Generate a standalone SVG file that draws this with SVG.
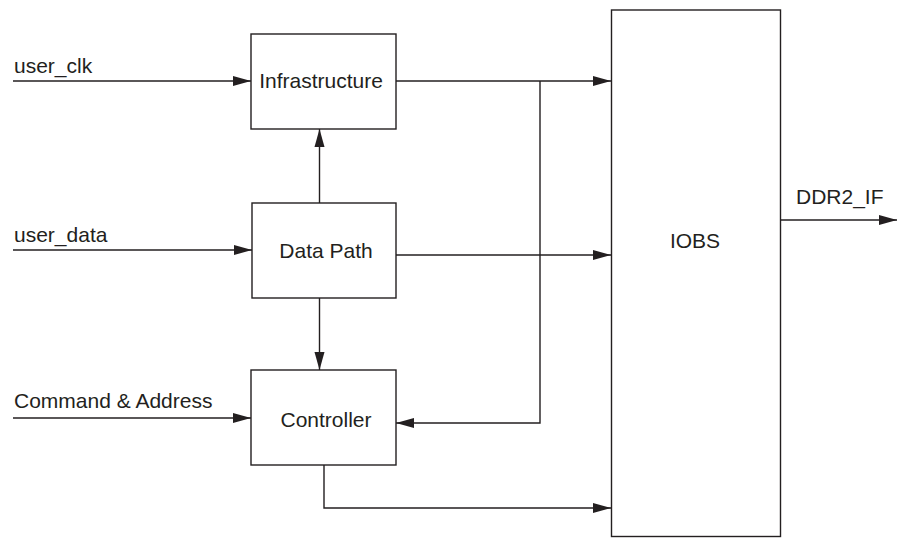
<svg xmlns="http://www.w3.org/2000/svg" width="901" height="538" viewBox="0 0 901 538">
<style>
.box{fill:#fff;stroke:#231f20;stroke-width:1.4}
.ln{fill:none;stroke:#231f20;stroke-width:1.4;marker-end:url(#ah)}
text{font-family:"Liberation Sans",Arial,sans-serif;font-size:21px;fill:#231f20}
.c{text-anchor:middle}
</style>
<defs>
<marker id="ah" markerUnits="userSpaceOnUse" markerWidth="19" markerHeight="11" refX="18" refY="5.5" orient="auto">
<path d="M0,0.5 L18,5.5 L0,10.5 z" fill="#231f20"/>
</marker>
</defs>
<rect width="901" height="538" fill="#fff"/>
<g id="connectors">
<line class="ln" x1="13" y1="81" x2="251" y2="81"/>
<line class="ln" x1="13" y1="250" x2="252" y2="250"/>
<line class="ln" x1="13" y1="418" x2="251" y2="418"/>
<line class="ln" x1="396" y1="81" x2="611" y2="81"/>
<polyline class="ln" points="540,81 540,423 396,423"/>
<line class="ln" x1="396" y1="255" x2="611" y2="255"/>
<line class="ln" x1="319.5" y1="203" x2="319.5" y2="129"/>
<line class="ln" x1="319.5" y1="298" x2="319.5" y2="370"/>
<polyline class="ln" points="324,465 324,508 611,508"/>
<line class="ln" x1="781" y1="220" x2="897" y2="220"/>
</g>
<g id="infrastructure">
<rect class="box" x="251" y="34" width="145" height="95"/>
<text class="c" x="321" y="88">Infrastructure</text>
</g>
<g id="datapath">
<rect class="box" x="252" y="203" width="144" height="95"/>
<text class="c" x="326" y="258">Data Path</text>
</g>
<g id="controller">
<rect class="box" x="251" y="370" width="145" height="95"/>
<text class="c" x="326" y="427">Controller</text>
</g>
<g id="iobs">
<rect class="box" x="611.5" y="10" width="169" height="526.5"/>
<text class="c" x="695" y="248">IOBS</text>
</g>
<g id="labels">
<text x="14" y="73">user_clk</text>
<text x="14" y="242">user_data</text>
<text x="14" y="408">Command &amp; Address</text>
<text x="796" y="204">DDR2_IF</text>
</g>
</svg>
